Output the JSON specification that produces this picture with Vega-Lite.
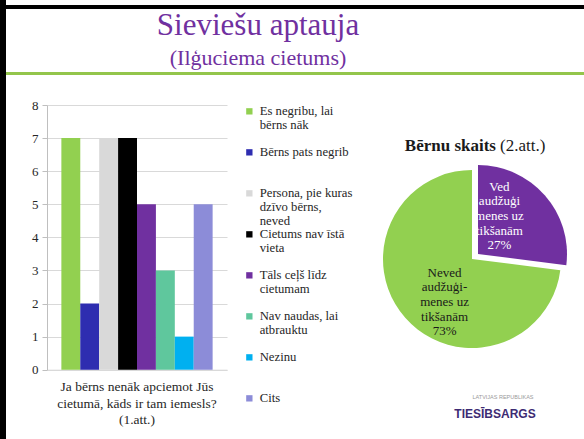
{
  "$schema": "https://vega.github.io/schema/vega-lite/v6.json",
  "background": "white",
  "padding": 0,
  "config": {
    "view": {"stroke": null},
    "concat": {"spacing": 0},
    "font": "Liberation Serif, serif",
    "axis": {"labelFont": "Liberation Serif, serif", "titleFont": "Liberation Serif, serif"},
    "legend": {"labelFont": "Liberation Serif, serif"},
    "title": {"font": "Liberation Serif, serif", "subtitleFont": "Liberation Serif, serif"}
  },
  "datasets": {
    "reasons": [
      {"question": "Ja bērns nenāk apciemot Jūs\ncietumā, kāds ir tam iemesls?\n(1.att.)", "reason": "Es negribu, lai\nbērns nāk", "count": 7},
      {"question": "Ja bērns nenāk apciemot Jūs\ncietumā, kāds ir tam iemesls?\n(1.att.)", "reason": "Bērns pats negrib", "count": 2},
      {"question": "Ja bērns nenāk apciemot Jūs\ncietumā, kāds ir tam iemesls?\n(1.att.)", "reason": "Persona, pie kuras\ndzīvo bērns,\nneved", "count": 7},
      {"question": "Ja bērns nenāk apciemot Jūs\ncietumā, kāds ir tam iemesls?\n(1.att.)", "reason": "Cietums nav īstā\nvieta", "count": 7},
      {"question": "Ja bērns nenāk apciemot Jūs\ncietumā, kāds ir tam iemesls?\n(1.att.)", "reason": "Tāls ceļš līdz\ncietumam", "count": 5},
      {"question": "Ja bērns nenāk apciemot Jūs\ncietumā, kāds ir tam iemesls?\n(1.att.)", "reason": "Nav naudas, lai\natbrauktu", "count": 3},
      {"question": "Ja bērns nenāk apciemot Jūs\ncietumā, kāds ir tam iemesls?\n(1.att.)", "reason": "Nezinu", "count": 1},
      {"question": "Ja bērns nenāk apciemot Jūs\ncietumā, kāds ir tam iemesls?\n(1.att.)", "reason": "Cits", "count": 5}
    ],
    "pie": [
      {"slice": "Ved audžuģimenes uz tikšanām", "label": "Ved\naudžuģi\nmenes uz\ntikšanām\n27%", "value": 27},
      {"slice": "Neved audžuģimenes uz tikšanām", "label": "Neved\naudžuģi-\nmenes uz\ntikšanām\n73%", "value": 73}
    ]
  },
  "spacing": 0,
  "bounds": "flush",
  "resolve": {"scale": {"color": "independent"}, "legend": {"color": "independent"}},
  "hconcat": [
    {"width": 6, "height": 439, "view": {"fill": "#000000", "stroke": null}, "data": {"values": []}, "mark": "point"},
    {
      "spacing": 0,
      "bounds": "flush",
      "resolve": {"scale": {"color": "independent"}, "legend": {"color": "independent"}},
      "vconcat": [
        {"width": 578, "height": 5, "data": {"values": []}, "mark": "point"},
        {"width": 578, "height": 4, "view": {"fill": "#000000", "stroke": null}, "data": {"values": []}, "mark": "point"},
        {"width": 578, "height": 63, "data": {"values": []}, "mark": "point"},
        {
          "width": 578, "height": 3,
          "view": {"fill": "#93C54B", "stroke": null},
          "title": {
            "text": "Sieviešu aptauja", "subtitle": "(Ilģuciema cietums)",
            "anchor": "middle", "dx": -37, "offset": 2,
            "font": "Liberation Serif, serif", "fontSize": 31, "fontWeight": "normal", "color": "#7030A0",
            "subtitleFont": "Liberation Serif, serif", "subtitleFontSize": 22, "subtitleColor": "#7030A0", "subtitlePadding": 6
          },
          "data": {"values": []}, "mark": "point"
        },
        {"width": 578, "height": 29.3, "data": {"values": []}, "mark": "point"},
        {
          "spacing": 0,
          "bounds": "flush",
          "resolve": {"scale": {"color": "independent"}, "legend": {"color": "independent"}},
          "hconcat": [
            {"width": 41, "height": 10, "data": {"values": []}, "mark": "point"},
            {
              "width": 180, "height": 264.7,
              "data": {"name": "reasons"},
              "mark": {"type": "bar"},
              "encoding": {
                "x": {
                  "field": "question", "type": "nominal", "title": null,
                  "scale": {"paddingInner": 0, "paddingOuter": 0.095},
                  "axis": {
                    "labelAngle": 0, "labelExpr": "split(datum.label, '\\n')", "ticks": false,
                    "domainColor": "#D9D9D9", "labelFont": "Liberation Serif, serif", "labelFontSize": 13.5,
                    "labelLineHeight": 16.5, "labelPadding": 10, "labelColor": "#262626", "labelLimit": 0, "labelBaseline": "top"
                  }
                },
                "xOffset": {"field": "reason", "type": "nominal", "sort": null, "scale": {"paddingInner": 0, "paddingOuter": 0}},
                "y": {
                  "field": "count", "type": "quantitative", "scale": {"domain": [0, 8]},
                  "axis": {
                    "title": null, "values": [0, 1, 2, 3, 4, 5, 6, 7, 8], "grid": true, "gridColor": "#D9D9D9",
                    "domainColor": "#BFBFBF", "tickColor": "#BFBFBF", "tickSize": 5,
                    "labelFont": "Liberation Serif, serif", "labelFontSize": 13, "labelColor": "#262626", "labelPadding": 4
                  }
                },
                "color": {
                  "field": "reason", "type": "nominal",
                  "scale": {
                    "domain": ["Es negribu, lai\nbērns nāk", "Bērns pats negrib", "Persona, pie kuras\ndzīvo bērns,\nneved", "Cietums nav īstā\nvieta", "Tāls ceļš līdz\ncietumam", "Nav naudas, lai\natbrauktu", "Nezinu", "Cits"],
                    "range": ["#92D050", "#2E2DB0", "#D9D9D9", "#000000", "#7030A0", "#5FC79D", "#00B0F0", "#8C8CD8"]
                  },
                  "legend": {
                    "title": null, "orient": "right", "offset": 16, "symbolType": "square", "symbolSize": 40,
                    "symbolStrokeWidth": 0, "labelFont": "Liberation Serif, serif", "labelFontSize": 12.7, "labelColor": "#262626",
                    "rowPadding": 0, "labelOffset": 4, "labelLimit": 0,
                    "labelExpr": "slice(split(datum.label + '\\n\\n', '\\n'), 0, 3)",
                    "encode": {"labels": {"update": {"lineHeight": {"value": 13.7}}}}
                  }
                }
              }
            },
            {"width": 153, "height": 10, "data": {"values": []}, "mark": "point"},
            {
              "width": 184, "height": 308,
              "layer": [
                {
                  "data": {"name": "pie"},
                  "mark": {"type": "arc", "outerRadius": 89},
                  "encoding": {
                    "theta": {"field": "value", "type": "quantitative", "stack": true},
                    "order": {"field": "value", "sort": "ascending"},
                    "color": {"field": "slice", "type": "nominal", "scale": {"domain": ["Ved audžuģimenes uz tikšanām", "Neved audžuģimenes uz tikšanām"], "range": ["#7030A0", "#92D050"]}, "legend": null},
                    "fillOpacity": {"condition": {"test": "datum.value < 50", "value": 0}, "value": 1}
                  }
                },
                {
                  "data": {"name": "pie"},
                  "mark": {"type": "arc", "outerRadius": 89, "xOffset": 6, "yOffset": -5},
                  "encoding": {
                    "theta": {"field": "value", "type": "quantitative", "stack": true},
                    "order": {"field": "value", "sort": "ascending"},
                    "color": {"field": "slice", "type": "nominal", "legend": null},
                    "fillOpacity": {"condition": {"test": "datum.value < 50", "value": 1}, "value": 0}
                  }
                },
                {
                  "data": {"name": "pie"},
                  "mark": {"type": "text", "radius": 51, "thetaOffset": -0.28, "dy": -29.2, "font": "Liberation Serif, serif", "fontSize": 13, "lineBreak": "\n", "lineHeight": 14.6, "align": "center", "baseline": "middle"},
                  "encoding": {
                    "theta": {"field": "value", "type": "quantitative", "stack": true},
                    "order": {"field": "value", "sort": "ascending"},
                    "text": {"field": "label"},
                    "color": {"condition": {"test": "datum.value < 50", "value": "#FFFFFF"}, "value": "#1A1A1A"}
                  }
                },
                {
                  "data": {"values": [{"t": "Bērnu skaits"}]},
                  "mark": {"type": "text", "align": "right", "baseline": "alphabetic", "dx": 24, "dy": -108, "font": "Liberation Serif, serif", "fontSize": 17, "fontWeight": "bold", "color": "#1A1A1A"},
                  "encoding": {"text": {"field": "t"}}
                },
                {
                  "data": {"values": [{"t": "(2.att.)"}]},
                  "mark": {"type": "text", "align": "left", "baseline": "alphabetic", "dx": 28, "dy": -108, "font": "Liberation Serif, serif", "fontSize": 17, "color": "#1A1A1A"},
                  "encoding": {"text": {"field": "t"}}
                },
                {
                  "data": {"values": [{"t": "LATVIJAS REPUBLIKAS"}]},
                  "mark": {"type": "text", "align": "center", "baseline": "alphabetic", "dx": 31, "dy": 140, "font": "Liberation Sans", "fontSize": 5.5, "color": "#9A9A9A"},
                  "encoding": {"text": {"field": "t"}}
                },
                {
                  "data": {"values": [{"t": "TIESĪBSARGS"}]},
                  "mark": {"type": "text", "align": "center", "baseline": "alphabetic", "dx": 23, "dy": 159, "font": "Liberation Sans", "fontSize": 12, "fontWeight": "bold", "color": "#3D2B73"},
                  "encoding": {"text": {"field": "t"}}
                }
              ]
            }
          ]
        }
      ]
    }
  ]
}
